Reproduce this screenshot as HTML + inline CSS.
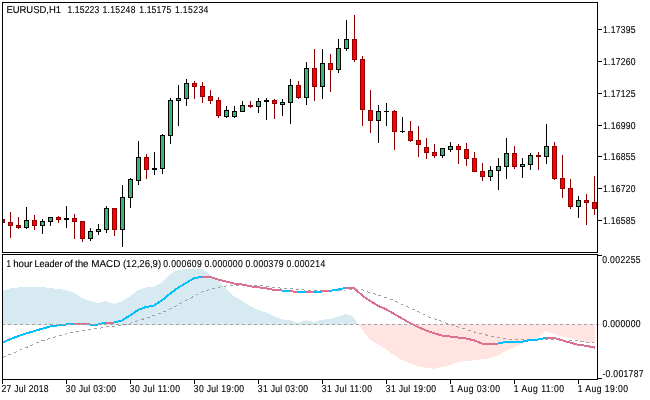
<!DOCTYPE html>
<html><head><meta charset="utf-8"><style>
html,body{margin:0;padding:0;background:#fff;width:650px;height:400px;overflow:hidden}
svg{display:block}
</style></head><body>
<svg width="650" height="400" viewBox="0 0 650 400" style="will-change:transform">
<rect x="0" y="0" width="650" height="400" fill="#fff"/>
<defs><clipPath id="cm"><rect x="3" y="3" width="594" height="249"/></clipPath><clipPath id="ci"><rect x="3" y="255" width="594" height="124"/></clipPath></defs>
<g clip-path="url(#ci)" shape-rendering="crispEdges"><polygon points="3,325 3,291 10,288.4 18,287.5 26,287 42,287 50,288 58,289 66,290 74,292.8 82,298 90,301 98,303 106,301 114,304 122,301 130,296.5 138,290 146,287.5 154,286.6 162,282.3 170,274 178,270 186,269 202,269 210,274.5 218,281 226,289 234,296 242,301 250,306 258,309.8 266,312.4 274,315.9 282,319.4 290,320.3 298,322.9 306,320.3 314,322 322,319.7 330,319.2 338,316.5 346,314 353,316.2 356,321 358,325" fill="#d7eaf1"/><polygon points="358,324 362,329.3 366,334.5 370,339.8 378,344.2 386,349.4 394,355.5 402,359.9 410,363.4 418,366 426,367.8 434,368.7 442,366.9 450,365.2 458,361.8 474,360.3 490,358.2 498,355.5 506,351 514,347.3 522,343.8 530,340.6 538,336.9 546,331 554,334 562,336.2 570,338.4 578,340 586,342 595,343.5 595,324" fill="#ffe4e1"/><polyline points="3,357.5 7,355.5 15,352.5 21,349.5 28,346.8 34,344 40,341.5 46,339.5 51,338.3 57,336.3 66,334 74,332 82,330.5 90,329.5 98,328.5 106,327 114,326.3 122,325.3 128,324.2 134,321.8 147,318 152,316 160,313.5 166,311 172,308 176,306 184,301.5 190,298.5 196,295 202,292 210,289.3 218,287.3 226,286 234,285.2 242,285 250,285.2 262,285.2 268,286.3 274,287.4 280,288 292,288.5 298,289.5 304,290 314,290.4 330,290.4 346,290 352,289.2 358,289 363,290 368,292 375,294 381,296 387,298 394,300.5 402,304.5 410,308 418,311.5 424,314.5 429,317 436,319.5 441,321 446,323 453,325.5 460,327.5 466,329 471,331.2 478,332.8 484,334.3 490,336 496,337.2 502,338.2 510,339.2 520,339.8 530,340 550,339.2 562,340 574,340.5 580,341 585,342 594,343" fill="none" stroke="#a0a0a0" stroke-width="1" stroke-dasharray="3 3"/><polyline points="3,342.3 10,339.2 18,336.3 26,333.6 34,331.2 42,328.8 50,326.5 58,325.4 66,324.5 74,323.5 82,324 90,324.5 98,324.5 106,322.5 114,322.5 122,320.5 130,315.5 138,310 146,307 154,305.5 162,300.3 170,293.7 178,287.8 186,283 194,278.3 202,276.8 210,276.8 218,279.5 226,281.5 234,283.5 242,284.5 250,286.2 258,287.2 266,288.3 274,290 282,290.5 290,290.8 298,292.5 306,291.5 314,291.5 322,291.5 330,290.8 338,289.5 346,288 354,288 362,295.3 370,300.9 378,305.8 386,309.2 394,313.9 402,318.4 410,323.2 418,327 426,330.4 434,333.2 442,335.5 450,336.5 458,337.5 466,338.5 474,340.3 482,343.5 490,343.5 498,343.5 506,341.8 514,341.8 522,341.8 530,340 538,339.5 546,337.8 554,337.8 562,340.3 570,342.5 578,344.8 586,345.8 595,347.6" fill="none" stroke="#00bfff" stroke-width="2" stroke-linejoin="round"/><polyline points="74,323.5 82,324 90,324.5" fill="none" stroke="#db7093" stroke-width="2" stroke-linejoin="round"/><polyline points="106,322.5 114,322.5" fill="none" stroke="#db7093" stroke-width="2" stroke-linejoin="round"/><polyline points="202,276.8 210,276.8 218,279.5 226,281.5 234,283.5 242,284.5 250,286.2 258,287.2 266,288.3 274,290 282,290.5" fill="none" stroke="#db7093" stroke-width="2" stroke-linejoin="round"/><polyline points="290,290.8 298,292.5" fill="none" stroke="#db7093" stroke-width="2" stroke-linejoin="round"/><polyline points="306,291.5 314,291.5" fill="none" stroke="#db7093" stroke-width="2" stroke-linejoin="round"/><polyline points="322,291.5 330,290.8" fill="none" stroke="#db7093" stroke-width="2" stroke-linejoin="round"/><polyline points="346,288 354,288 362,295.3 370,300.9 378,305.8 386,309.2 394,313.9 402,318.4 410,323.2 418,327 426,330.4 434,333.2 442,335.5 450,336.5 458,337.5 466,338.5 474,340.3 482,343.5 490,343.5 498,343.5" fill="none" stroke="#db7093" stroke-width="2" stroke-linejoin="round"/><polyline points="546,337.8 554,337.8 562,340.3 570,342.5 578,344.8 586,345.8 595,347.6" fill="none" stroke="#db7093" stroke-width="2" stroke-linejoin="round"/></g>
<line x1="2" y1="324.5" x2="601" y2="324.5" stroke="#aa9f9f" stroke-width="1" stroke-dasharray="3 3" shape-rendering="crispEdges"/>
<g shape-rendering="crispEdges" clip-path="url(#cm)"><rect x="2" y="216" width="1" height="11" fill="#8b0000"/><rect x="0" y="219" width="5" height="4" fill="#8b0000"/><rect x="1" y="220" width="3" height="2" fill="#ff0000"/><rect x="10" y="212" width="1" height="26" fill="#8b0000"/><rect x="8" y="222" width="5" height="4" fill="#8b0000"/><rect x="9" y="223" width="3" height="2" fill="#ff0000"/><rect x="18" y="217" width="1" height="12" fill="#8b0000"/><rect x="16" y="225" width="5" height="3" fill="#8b0000"/><rect x="17" y="226" width="3" height="1" fill="#ff0000"/><rect x="26" y="207" width="1" height="22" fill="#000000"/><rect x="24" y="220" width="5" height="8" fill="#000000"/><rect x="25" y="221" width="3" height="6" fill="#3cb371"/><rect x="34" y="215" width="1" height="15" fill="#8b0000"/><rect x="32" y="220" width="5" height="6" fill="#8b0000"/><rect x="33" y="221" width="3" height="4" fill="#ff0000"/><rect x="42" y="219" width="1" height="15" fill="#000000"/><rect x="40" y="221" width="5" height="5" fill="#000000"/><rect x="41" y="222" width="3" height="3" fill="#3cb371"/><rect x="50" y="217" width="1" height="9" fill="#000000"/><rect x="48" y="217" width="5" height="5" fill="#000000"/><rect x="49" y="218" width="3" height="3" fill="#3cb371"/><rect x="58" y="216" width="1" height="7" fill="#8b0000"/><rect x="56" y="217" width="5" height="3" fill="#8b0000"/><rect x="57" y="218" width="3" height="1" fill="#ff0000"/><rect x="66" y="206" width="1" height="22" fill="#000000"/><rect x="64" y="218" width="5" height="2" fill="#000000"/><rect x="74" y="214" width="1" height="25" fill="#8b0000"/><rect x="72" y="218" width="5" height="4" fill="#8b0000"/><rect x="73" y="219" width="3" height="2" fill="#ff0000"/><rect x="82" y="221" width="1" height="21" fill="#8b0000"/><rect x="80" y="221" width="5" height="18" fill="#8b0000"/><rect x="81" y="222" width="3" height="16" fill="#ff0000"/><rect x="90" y="228" width="1" height="13" fill="#000000"/><rect x="88" y="231" width="5" height="8" fill="#000000"/><rect x="89" y="232" width="3" height="6" fill="#3cb371"/><rect x="98" y="224" width="1" height="11" fill="#000000"/><rect x="96" y="229" width="5" height="3" fill="#000000"/><rect x="97" y="230" width="3" height="1" fill="#3cb371"/><rect x="106" y="206" width="1" height="27" fill="#000000"/><rect x="104" y="208" width="5" height="22" fill="#000000"/><rect x="105" y="209" width="3" height="20" fill="#3cb371"/><rect x="114" y="208" width="1" height="28" fill="#8b0000"/><rect x="112" y="208" width="5" height="22" fill="#8b0000"/><rect x="113" y="209" width="3" height="20" fill="#ff0000"/><rect x="122" y="185" width="1" height="62" fill="#000000"/><rect x="120" y="197" width="5" height="33" fill="#000000"/><rect x="121" y="198" width="3" height="31" fill="#3cb371"/><rect x="130" y="178" width="1" height="30" fill="#000000"/><rect x="128" y="179" width="5" height="19" fill="#000000"/><rect x="129" y="180" width="3" height="17" fill="#3cb371"/><rect x="138" y="141" width="1" height="44" fill="#000000"/><rect x="136" y="157" width="5" height="24" fill="#000000"/><rect x="137" y="158" width="3" height="22" fill="#3cb371"/><rect x="146" y="154" width="1" height="25" fill="#8b0000"/><rect x="144" y="157" width="5" height="13" fill="#8b0000"/><rect x="145" y="158" width="3" height="11" fill="#ff0000"/><rect x="154" y="152" width="1" height="23" fill="#000000"/><rect x="152" y="168" width="5" height="2" fill="#000000"/><rect x="162" y="134" width="1" height="40" fill="#000000"/><rect x="160" y="135" width="5" height="34" fill="#000000"/><rect x="161" y="136" width="3" height="32" fill="#3cb371"/><rect x="170" y="98" width="1" height="46" fill="#000000"/><rect x="168" y="100" width="5" height="36" fill="#000000"/><rect x="169" y="101" width="3" height="34" fill="#3cb371"/><rect x="178" y="85" width="1" height="41" fill="#000000"/><rect x="176" y="98" width="5" height="3" fill="#000000"/><rect x="177" y="99" width="3" height="1" fill="#3cb371"/><rect x="186" y="79" width="1" height="27" fill="#000000"/><rect x="184" y="83" width="5" height="16" fill="#000000"/><rect x="185" y="84" width="3" height="14" fill="#3cb371"/><rect x="194" y="81" width="1" height="18" fill="#8b0000"/><rect x="192" y="83" width="5" height="4" fill="#8b0000"/><rect x="193" y="84" width="3" height="2" fill="#ff0000"/><rect x="202" y="82" width="1" height="21" fill="#8b0000"/><rect x="200" y="86" width="5" height="11" fill="#8b0000"/><rect x="201" y="87" width="3" height="9" fill="#ff0000"/><rect x="210" y="90" width="1" height="14" fill="#8b0000"/><rect x="208" y="96" width="5" height="5" fill="#8b0000"/><rect x="209" y="97" width="3" height="3" fill="#ff0000"/><rect x="218" y="97" width="1" height="21" fill="#8b0000"/><rect x="216" y="100" width="5" height="16" fill="#8b0000"/><rect x="217" y="101" width="3" height="14" fill="#ff0000"/><rect x="226" y="106" width="1" height="12" fill="#000000"/><rect x="224" y="110" width="5" height="7" fill="#000000"/><rect x="225" y="111" width="3" height="5" fill="#3cb371"/><rect x="234" y="106" width="1" height="12" fill="#000000"/><rect x="232" y="111" width="5" height="6" fill="#000000"/><rect x="233" y="112" width="3" height="4" fill="#3cb371"/><rect x="242" y="101" width="1" height="11" fill="#000000"/><rect x="240" y="105" width="5" height="7" fill="#000000"/><rect x="241" y="106" width="3" height="5" fill="#3cb371"/><rect x="250" y="101" width="1" height="7" fill="#8b0000"/><rect x="248" y="105" width="5" height="2" fill="#8b0000"/><rect x="258" y="98" width="1" height="15" fill="#000000"/><rect x="256" y="101" width="5" height="6" fill="#000000"/><rect x="257" y="102" width="3" height="4" fill="#3cb371"/><rect x="266" y="98" width="1" height="22" fill="#000000"/><rect x="264" y="100" width="5" height="2" fill="#000000"/><rect x="274" y="99" width="1" height="20" fill="#8b0000"/><rect x="272" y="100" width="5" height="4" fill="#8b0000"/><rect x="273" y="101" width="3" height="2" fill="#ff0000"/><rect x="282" y="99" width="1" height="17" fill="#000000"/><rect x="280" y="102" width="5" height="3" fill="#000000"/><rect x="281" y="103" width="3" height="1" fill="#3cb371"/><rect x="290" y="79" width="1" height="45" fill="#000000"/><rect x="288" y="85" width="5" height="18" fill="#000000"/><rect x="289" y="86" width="3" height="16" fill="#3cb371"/><rect x="298" y="81" width="1" height="18" fill="#8b0000"/><rect x="296" y="85" width="5" height="13" fill="#8b0000"/><rect x="297" y="86" width="3" height="11" fill="#ff0000"/><rect x="306" y="62" width="1" height="43" fill="#000000"/><rect x="304" y="68" width="5" height="30" fill="#000000"/><rect x="305" y="69" width="3" height="28" fill="#3cb371"/><rect x="314" y="49" width="1" height="52" fill="#8b0000"/><rect x="312" y="68" width="5" height="19" fill="#8b0000"/><rect x="313" y="69" width="3" height="17" fill="#ff0000"/><rect x="322" y="49" width="1" height="50" fill="#000000"/><rect x="320" y="63" width="5" height="24" fill="#000000"/><rect x="321" y="64" width="3" height="22" fill="#3cb371"/><rect x="330" y="54" width="1" height="38" fill="#8b0000"/><rect x="328" y="63" width="5" height="7" fill="#8b0000"/><rect x="329" y="64" width="3" height="5" fill="#ff0000"/><rect x="338" y="39" width="1" height="34" fill="#000000"/><rect x="336" y="48" width="5" height="22" fill="#000000"/><rect x="337" y="49" width="3" height="20" fill="#3cb371"/><rect x="346" y="20" width="1" height="31" fill="#000000"/><rect x="344" y="39" width="5" height="10" fill="#000000"/><rect x="345" y="40" width="3" height="8" fill="#3cb371"/><rect x="354" y="15" width="1" height="47" fill="#8b0000"/><rect x="352" y="39" width="5" height="21" fill="#8b0000"/><rect x="353" y="40" width="3" height="19" fill="#ff0000"/><rect x="362" y="56" width="1" height="70" fill="#8b0000"/><rect x="360" y="59" width="5" height="51" fill="#8b0000"/><rect x="361" y="60" width="3" height="49" fill="#ff0000"/><rect x="370" y="90" width="1" height="43" fill="#8b0000"/><rect x="368" y="110" width="5" height="11" fill="#8b0000"/><rect x="369" y="111" width="3" height="9" fill="#ff0000"/><rect x="378" y="105" width="1" height="38" fill="#000000"/><rect x="376" y="111" width="5" height="10" fill="#000000"/><rect x="377" y="112" width="3" height="8" fill="#3cb371"/><rect x="386" y="103" width="1" height="23" fill="#000000"/><rect x="384" y="111" width="5" height="1" fill="#000000"/><rect x="394" y="110" width="1" height="40" fill="#8b0000"/><rect x="392" y="111" width="5" height="21" fill="#8b0000"/><rect x="393" y="112" width="3" height="19" fill="#ff0000"/><rect x="402" y="117" width="1" height="16" fill="#000000"/><rect x="400" y="131" width="5" height="1" fill="#000000"/><rect x="410" y="121" width="1" height="21" fill="#8b0000"/><rect x="408" y="131" width="5" height="10" fill="#8b0000"/><rect x="409" y="132" width="3" height="8" fill="#ff0000"/><rect x="418" y="126" width="1" height="31" fill="#8b0000"/><rect x="416" y="140" width="5" height="5" fill="#8b0000"/><rect x="417" y="141" width="3" height="3" fill="#ff0000"/><rect x="426" y="138" width="1" height="21" fill="#8b0000"/><rect x="424" y="147" width="5" height="6" fill="#8b0000"/><rect x="425" y="148" width="3" height="4" fill="#ff0000"/><rect x="434" y="144" width="1" height="14" fill="#8b0000"/><rect x="432" y="152" width="5" height="4" fill="#8b0000"/><rect x="433" y="153" width="3" height="2" fill="#ff0000"/><rect x="442" y="148" width="1" height="10" fill="#000000"/><rect x="440" y="148" width="5" height="8" fill="#000000"/><rect x="441" y="149" width="3" height="6" fill="#3cb371"/><rect x="450" y="142" width="1" height="10" fill="#000000"/><rect x="448" y="146" width="5" height="4" fill="#000000"/><rect x="449" y="147" width="3" height="2" fill="#3cb371"/><rect x="458" y="144" width="1" height="20" fill="#8b0000"/><rect x="456" y="146" width="5" height="4" fill="#8b0000"/><rect x="457" y="147" width="3" height="2" fill="#ff0000"/><rect x="466" y="143" width="1" height="23" fill="#8b0000"/><rect x="464" y="149" width="5" height="10" fill="#8b0000"/><rect x="465" y="150" width="3" height="8" fill="#ff0000"/><rect x="474" y="152" width="1" height="20" fill="#8b0000"/><rect x="472" y="158" width="5" height="14" fill="#8b0000"/><rect x="473" y="159" width="3" height="12" fill="#ff0000"/><rect x="482" y="163" width="1" height="18" fill="#8b0000"/><rect x="480" y="171" width="5" height="6" fill="#8b0000"/><rect x="481" y="172" width="3" height="4" fill="#ff0000"/><rect x="490" y="166" width="1" height="15" fill="#000000"/><rect x="488" y="170" width="5" height="7" fill="#000000"/><rect x="489" y="171" width="3" height="5" fill="#3cb371"/><rect x="498" y="158" width="1" height="32" fill="#000000"/><rect x="496" y="166" width="5" height="5" fill="#000000"/><rect x="497" y="167" width="3" height="3" fill="#3cb371"/><rect x="506" y="138" width="1" height="41" fill="#000000"/><rect x="504" y="153" width="5" height="14" fill="#000000"/><rect x="505" y="154" width="3" height="12" fill="#3cb371"/><rect x="514" y="146" width="1" height="23" fill="#8b0000"/><rect x="512" y="153" width="5" height="14" fill="#8b0000"/><rect x="513" y="154" width="3" height="12" fill="#ff0000"/><rect x="522" y="158" width="1" height="20" fill="#000000"/><rect x="520" y="164" width="5" height="3" fill="#000000"/><rect x="521" y="165" width="3" height="1" fill="#3cb371"/><rect x="530" y="153" width="1" height="17" fill="#000000"/><rect x="528" y="155" width="5" height="10" fill="#000000"/><rect x="529" y="156" width="3" height="8" fill="#3cb371"/><rect x="538" y="152" width="1" height="18" fill="#8b0000"/><rect x="536" y="155" width="5" height="2" fill="#8b0000"/><rect x="546" y="124" width="1" height="40" fill="#000000"/><rect x="544" y="146" width="5" height="11" fill="#000000"/><rect x="545" y="147" width="3" height="9" fill="#3cb371"/><rect x="554" y="142" width="1" height="38" fill="#8b0000"/><rect x="552" y="146" width="5" height="33" fill="#8b0000"/><rect x="553" y="147" width="3" height="31" fill="#ff0000"/><rect x="562" y="155" width="1" height="43" fill="#8b0000"/><rect x="560" y="178" width="5" height="11" fill="#8b0000"/><rect x="561" y="179" width="3" height="9" fill="#ff0000"/><rect x="570" y="179" width="1" height="30" fill="#8b0000"/><rect x="568" y="188" width="5" height="19" fill="#8b0000"/><rect x="569" y="189" width="3" height="17" fill="#ff0000"/><rect x="578" y="196" width="1" height="22" fill="#000000"/><rect x="576" y="200" width="5" height="7" fill="#000000"/><rect x="577" y="201" width="3" height="5" fill="#3cb371"/><rect x="586" y="194" width="1" height="31" fill="#8b0000"/><rect x="584" y="200" width="5" height="3" fill="#8b0000"/><rect x="585" y="201" width="3" height="1" fill="#ff0000"/><rect x="594" y="176" width="1" height="39" fill="#8b0000"/><rect x="592" y="202" width="5" height="7" fill="#8b0000"/><rect x="593" y="203" width="3" height="5" fill="#ff0000"/></g>
<g shape-rendering="crispEdges"><rect x="2" y="2" width="596" height="1" fill="#000"/><rect x="2" y="2" width="1" height="251" fill="#000"/><rect x="597" y="2" width="1" height="251" fill="#000"/><rect x="2" y="252" width="596" height="1" fill="#000"/><rect x="2" y="254" width="596" height="1" fill="#000"/><rect x="2" y="254" width="1" height="126" fill="#000"/><rect x="597" y="254" width="1" height="126" fill="#000"/><rect x="2" y="379" width="596" height="1" fill="#000"/><rect x="598" y="29" width="4" height="1" fill="#000"/><rect x="598" y="61" width="4" height="1" fill="#000"/><rect x="598" y="93" width="4" height="1" fill="#000"/><rect x="598" y="125" width="4" height="1" fill="#000"/><rect x="598" y="156" width="4" height="1" fill="#000"/><rect x="598" y="188" width="4" height="1" fill="#000"/><rect x="598" y="220" width="4" height="1" fill="#000"/><rect x="598" y="255" width="4" height="1" fill="#000"/><rect x="598" y="378" width="4" height="1" fill="#000"/><rect x="2" y="380" width="1" height="4" fill="#000"/><rect x="66" y="380" width="1" height="4" fill="#000"/><rect x="130" y="380" width="1" height="4" fill="#000"/><rect x="194" y="380" width="1" height="4" fill="#000"/><rect x="258" y="380" width="1" height="4" fill="#000"/><rect x="322" y="380" width="1" height="4" fill="#000"/><rect x="386" y="380" width="1" height="4" fill="#000"/><rect x="450" y="380" width="1" height="4" fill="#000"/><rect x="514" y="380" width="1" height="4" fill="#000"/><rect x="578" y="380" width="1" height="4" fill="#000"/></g>
<g font-family="Liberation Sans, sans-serif" fill="#000" stroke="#000" stroke-width="0.12" text-rendering="geometricPrecision"><text transform="translate(6.40,13) scale(0.946,1)" font-size="10" textLength="57.80" lengthAdjust="spacing">EURUSD,H1</text><text transform="translate(67.40,13) scale(0.860,1)" font-size="10" textLength="37.09" lengthAdjust="spacing">1.15223</text><text transform="translate(102.40,13) scale(0.860,1)" font-size="10" textLength="38.49" lengthAdjust="spacing">1.15248</text><text transform="translate(139.20,13) scale(0.860,1)" font-size="10" textLength="37.21" lengthAdjust="spacing">1.15175</text><text transform="translate(174.90,13) scale(0.860,1)" font-size="10" textLength="38.95" lengthAdjust="spacing">1.15234</text><text transform="translate(603.00,33) scale(0.860,1)" font-size="10" textLength="37.91" lengthAdjust="spacing">1.17395</text><text transform="translate(603.00,65) scale(0.860,1)" font-size="10" textLength="37.91" lengthAdjust="spacing">1.17260</text><text transform="translate(603.00,97) scale(0.860,1)" font-size="10" textLength="37.91" lengthAdjust="spacing">1.17125</text><text transform="translate(603.00,129) scale(0.860,1)" font-size="10" textLength="37.91" lengthAdjust="spacing">1.16990</text><text transform="translate(603.00,160) scale(0.860,1)" font-size="10" textLength="37.91" lengthAdjust="spacing">1.16855</text><text transform="translate(603.00,192) scale(0.860,1)" font-size="10" textLength="37.91" lengthAdjust="spacing">1.16720</text><text transform="translate(603.00,224) scale(0.860,1)" font-size="10" textLength="37.91" lengthAdjust="spacing">1.16585</text><text transform="translate(6.40,267) scale(0.791,1)" font-size="10" textLength="5.56" lengthAdjust="spacing">1</text><text transform="translate(13.20,267) scale(0.969,1)" font-size="10" textLength="20.02" lengthAdjust="spacing">hour</text><text transform="translate(34.40,267) scale(0.906,1)" font-size="10" textLength="31.14" lengthAdjust="spacing">Leader</text><text transform="translate(64.40,267) scale(1.000,1)" font-size="10" textLength="8.50" lengthAdjust="spacing">of</text><text transform="translate(74.90,267) scale(0.985,1)" font-size="10" textLength="13.91" lengthAdjust="spacing">the</text><text transform="translate(91.30,267) scale(0.988,1)" font-size="10" textLength="29.45" lengthAdjust="spacing">MACD</text><text transform="translate(122.90,267) scale(0.954,1)" font-size="10" textLength="40.03" lengthAdjust="spacing">(12,26,9)</text><text transform="translate(163.20,267) scale(0.860,1)" font-size="10" textLength="44.88" lengthAdjust="spacing">0.000609</text><text transform="translate(204.40,267) scale(0.860,1)" font-size="10" textLength="44.65" lengthAdjust="spacing">0.000000</text><text transform="translate(245.60,267) scale(0.860,1)" font-size="10" textLength="44.07" lengthAdjust="spacing">0.000379</text><text transform="translate(286.50,267) scale(0.860,1)" font-size="10" textLength="45.00" lengthAdjust="spacing">0.000214</text><text transform="translate(602.20,263) scale(0.860,1)" font-size="10" textLength="44.65" lengthAdjust="spacing">0.002255</text><text transform="translate(602.40,327) scale(0.860,1)" font-size="10" textLength="44.42" lengthAdjust="spacing">0.000000</text><text transform="translate(602.40,377) scale(0.860,1)" font-size="10" textLength="47.79" lengthAdjust="spacing">-0.001787</text><text transform="translate(1.40,392) scale(0.860,1)" font-size="10" textLength="54.88" lengthAdjust="spacing">27 Jul 2018</text><text transform="translate(65.80,392) scale(0.860,1)" font-size="10" textLength="58.37" lengthAdjust="spacing">30 Jul 03:00</text><text transform="translate(129.80,392) scale(0.860,1)" font-size="10" textLength="58.37" lengthAdjust="spacing">30 Jul 11:00</text><text transform="translate(193.80,392) scale(0.860,1)" font-size="10" textLength="58.37" lengthAdjust="spacing">30 Jul 19:00</text><text transform="translate(257.80,392) scale(0.860,1)" font-size="10" textLength="58.37" lengthAdjust="spacing">31 Jul 03:00</text><text transform="translate(321.80,392) scale(0.860,1)" font-size="10" textLength="58.37" lengthAdjust="spacing">31 Jul 11:00</text><text transform="translate(385.80,392) scale(0.860,1)" font-size="10" textLength="58.37" lengthAdjust="spacing">31 Jul 19:00</text><text transform="translate(449.80,392) scale(0.860,1)" font-size="10" textLength="58.37" lengthAdjust="spacing">1 Aug 03:00</text><text transform="translate(513.80,392) scale(0.860,1)" font-size="10" textLength="58.37" lengthAdjust="spacing">1 Aug 11:00</text><text transform="translate(577.80,392) scale(0.860,1)" font-size="10" textLength="58.37" lengthAdjust="spacing">1 Aug 19:00</text></g>
</svg>
</body></html>
